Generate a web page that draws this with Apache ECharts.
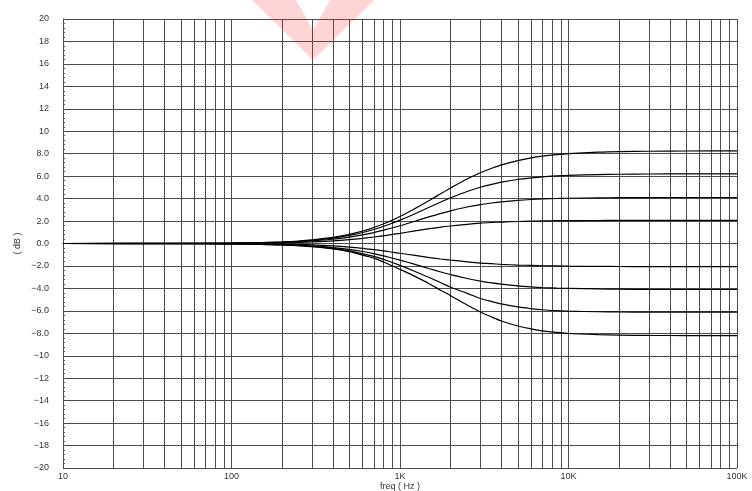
<!DOCTYPE html>
<html>
<head>
<meta charset="utf-8">
<script src="https://cdn.jsdelivr.net/npm/echarts@6/dist/echarts.min.js"></script>
<style>
  html, body { margin: 0; padding: 0; background: #fff; }
  #chart { width: 752px; height: 491px; }
</style>
</head>
<body>
<div id="chart"></div>
<script>
// frequency points (Hz) and gain curves (dB)
const freqs = [10, 50, 100, 150, 200, 250, 300, 400, 500, 600, 700, 850, 1000, 1200, 1500, 1750, 2000, 2500, 3000, 3500, 4000, 5000, 6000, 7000, 8500, 10000, 15000, 20000, 30000, 50000, 100000]

const boost8 = [0, 0.01, 0.04, 0.08, 0.14, 0.22, 0.32, 0.54, 0.81, 1.11, 1.43, 1.92, 2.41, 3.03, 3.86, 4.45, 4.95, 5.74, 6.30, 6.70, 7.00, 7.39, 7.63, 7.78, 7.92, 8.01, 8.14, 8.19, 8.22, 8.24, 8.25]
const boost6 = [0, 0.01, 0.03, 0.07, 0.13, 0.20, 0.28, 0.48, 0.72, 0.98, 1.25, 1.67, 2.08, 2.59, 3.25, 3.70, 4.07, 4.63, 5.01, 5.27, 5.46, 5.70, 5.84, 5.94, 6.02, 6.07, 6.14, 6.17, 6.19, 6.20, 6.20]
const boost4 = [0, 0.01, 0.03, 0.06, 0.10, 0.16, 0.23, 0.38, 0.57, 0.77, 0.97, 1.29, 1.58, 1.94, 2.39, 2.68, 2.91, 3.25, 3.47, 3.61, 3.71, 3.84, 3.92, 3.97, 4.01, 4.03, 4.07, 4.08, 4.09, 4.10, 4.10]
const boost2 = [0, 0, 0.02, 0.04, 0.06, 0.10, 0.14, 0.23, 0.34, 0.46, 0.58, 0.75, 0.91, 1.10, 1.32, 1.46, 1.56, 1.71, 1.81, 1.87, 1.91, 1.96, 1.99, 2.01, 2.03, 2.04, 2.05, 2.06, 2.06, 2.06, 2.06]
const cut2 = [0, 0, -0.02, -0.04, -0.06, -0.09, -0.13, -0.22, -0.32, -0.43, -0.55, -0.71, -0.87, -1.04, -1.25, -1.38, -1.48, -1.63, -1.74, -1.80, -1.86, -1.92, -1.95, -1.98, -2.00, -2.02, -2.04, -2.05, -2.06, -2.06, -2.06]
const cut4 = [0, -0.01, -0.03, -0.06, -0.10, -0.15, -0.21, -0.36, -0.53, -0.71, -0.90, -1.20, -1.48, -1.82, -2.25, -2.54, -2.78, -3.12, -3.35, -3.51, -3.62, -3.77, -3.86, -3.92, -3.97, -4.00, -4.05, -4.07, -4.09, -4.10, -4.10]
const cut6 = [0, -0.01, -0.03, -0.07, -0.12, -0.18, -0.26, -0.44, -0.65, -0.92, -1.15, -1.56, -1.95, -2.43, -3.05, -3.50, -3.90, -4.44, -4.90, -5.17, -5.38, -5.65, -5.80, -5.90, -5.98, -6.03, -6.08, -6.10, -6.11, -6.12, -6.12]
const cut8 = [0, -0.01, -0.04, -0.08, -0.13, -0.21, -0.29, -0.48, -0.72, -1.04, -1.30, -1.82, -2.30, -2.86, -3.60, -4.18, -4.65, -5.48, -6.10, -6.55, -6.90, -7.35, -7.60, -7.78, -7.92, -8.02, -8.12, -8.16, -8.19, -8.20, -8.21]

// minor log grid lines (2..9 of every decade)
const minorFreqs = [20, 30, 40, 50, 60, 70, 80, 90,
  200, 300, 400, 500, 600, 700, 800, 900,
  2000, 3000, 4000, 5000, 6000, 7000, 8000, 9000,
  20000, 30000, 40000, 50000, 60000, 70000, 80000, 90000]

const decadeLabels = { 10: '10', 100: '100', 1000: '1K', 10000: '10K', 100000: '100K' }

const gridColor = '#4a4a4a'
const textColor = '#333'
const font = 'Liberation Sans, Arial, sans-serif'

const curves = [boost8, boost6, boost4, boost2, cut2, cut4, cut6, cut8]

const chart = echarts.init(document.getElementById('chart'))

const series = curves.map(vals => ({
  type: 'line',
  data: freqs.map((f, k) => [f, vals[k]]),
  smooth: 0.3,
  showSymbol: false,
  lineStyle: { color: '#000', width: 1.2 },
  z: 5,
  silent: true
}))

// the minor vertical grid lines hang on the first series
series[0].markLine = {
  silent: true,
  symbol: 'none',
  animation: false,
  label: { show: false },
  lineStyle: { color: gridColor, width: 1, type: 'solid' },
  data: minorFreqs.map(f => ({ xAxis: f }))
}

chart.setOption({
  animation: false,
  backgroundColor: '#fff',
  grid: { left: 63, right: 15, top: 19, bottom: 23, containLabel: false, outerBoundsMode: 'none' },
  xAxis: {
    type: 'log',
    logBase: 10,
    min: 10,
    max: 100000,
    name: 'freq ( Hz )',
    nameLocation: 'middle',
    nameGap: 14,
    nameMoveOverlap: false,
    nameTextStyle: { color: textColor, fontSize: 9, fontFamily: font },
    axisLine: { show: true, lineStyle: { color: gridColor, width: 1 } },
    axisTick: { show: false },
    axisLabel: {
      color: textColor,
      fontSize: 9,
      fontFamily: font,
      margin: 4,
      showMaxLabel: true,
      showMinLabel: true,
      formatter: v => decadeLabels[Math.round(v)] || ''
    },
    splitLine: { show: true, lineStyle: { color: gridColor, width: 1 } }
  },
  yAxis: {
    type: 'value',
    min: -20,
    max: 20,
    interval: 2,
    name: '( dB )',
    nameLocation: 'middle',
    nameGap: 41,
    nameMoveOverlap: false,
    nameTextStyle: { color: textColor, fontSize: 9, fontFamily: font },
    axisLine: { show: true, lineStyle: { color: gridColor, width: 1 } },
    axisTick: { show: true, inside: true, length: 0 },
    minorTick: { show: true, splitNumber: 5, length: 2, lineStyle: { color: '#555' } },
    axisLabel: {
      color: textColor,
      fontSize: 9,
      fontFamily: font,
      margin: 14,
      formatter: v => {
        const a = Math.abs(v)
        const s = a >= 10 ? String(a) : a.toFixed(1)
        return v < 0 ? '\u2212' + s : s
      }
    },
    splitLine: { show: true, lineStyle: { color: gridColor, width: 1 } }
  },
  graphic: [
    {
      // faint watermark at the top
      type: 'polygon',
      z: 100,
      silent: true,
      shape: { points: [[252, 0], [296, 0], [313, 30], [330, 0], [374, 0], [313, 60]] },
      style: { fill: 'rgba(255, 40, 40, 0.2)' }
    }
  ],
  series: series
})
</script>
</body>
</html>
